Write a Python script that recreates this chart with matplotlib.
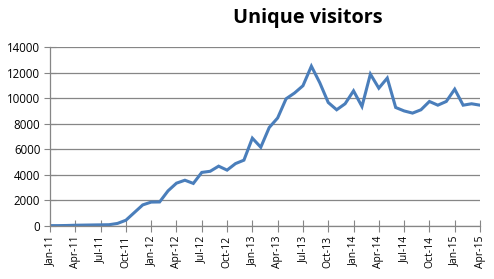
import matplotlib
matplotlib.use("Agg")
import matplotlib.pyplot as plt

# monthly unique visitors, Jan-11 .. Apr-15
visitors = [30, 30, 40, 60, 70, 80, 90, 100, 200, 450,
            1050, 1650, 1870, 1880, 2750, 3350, 3580, 3330, 4190, 4280,
            4680, 4370, 4880, 5150, 6870, 6160, 7700, 8450, 9950, 10400,
            10970, 12500, 11200, 9660, 9090, 9560, 10570, 9350, 11880, 10780,
            11570, 9270, 9000, 8830, 9090, 9740, 9450, 9740, 10700, 9450,
            9560, 9450]
tick_labels = ["Jan-11", "Apr-11", "Jul-11", "Oct-11", "Jan-12", "Apr-12",
               "Jul-12", "Oct-12", "Jan-13", "Apr-13", "Jul-13", "Oct-13",
               "Jan-14", "Apr-14", "Jul-14", "Oct-14", "Jan-15", "Apr-15"]

plt.rcParams["font.family"] = ["Open Sans", "DejaVu Sans"]

fig = plt.figure(figsize=(4.94, 2.79), dpi=100)
ax = fig.add_axes([50 / 494, 53 / 279, 430 / 494, 179 / 279])

months = list(range(len(visitors)))
ax.plot(months, visitors, color="#4a7ebb", linewidth=2.2, solid_joinstyle="miter")

ax.set_xlim(0, len(visitors) - 1)
ax.set_ylim(0, 14000)
ax.set_yticks(range(0, 14001, 2000))
ax.set_xticks(months[::3])
ax.set_xticklabels(tick_labels, rotation=90, fontsize=7.5)
ax.tick_params(axis="y", labelsize=8.3, length=8, direction="inout",
               color="#868686", pad=3)
ax.tick_params(axis="x", length=8, direction="inout", color="#868686", pad=3)

ax.grid(axis="y", color="#868686", linewidth=0.9)
ax.set_axisbelow(True)
for side in ["top", "right"]:
    ax.spines[side].set_visible(False)
for side in ["left", "bottom"]:
    ax.spines[side].set_color("#868686")
    ax.spines[side].set_linewidth(0.9)

fig.text(0.623, 0.935, "Unique visitors", ha="center", va="center",
         fontsize=14.3, fontweight="bold")

fig.savefig("out.png", dpi=100)
